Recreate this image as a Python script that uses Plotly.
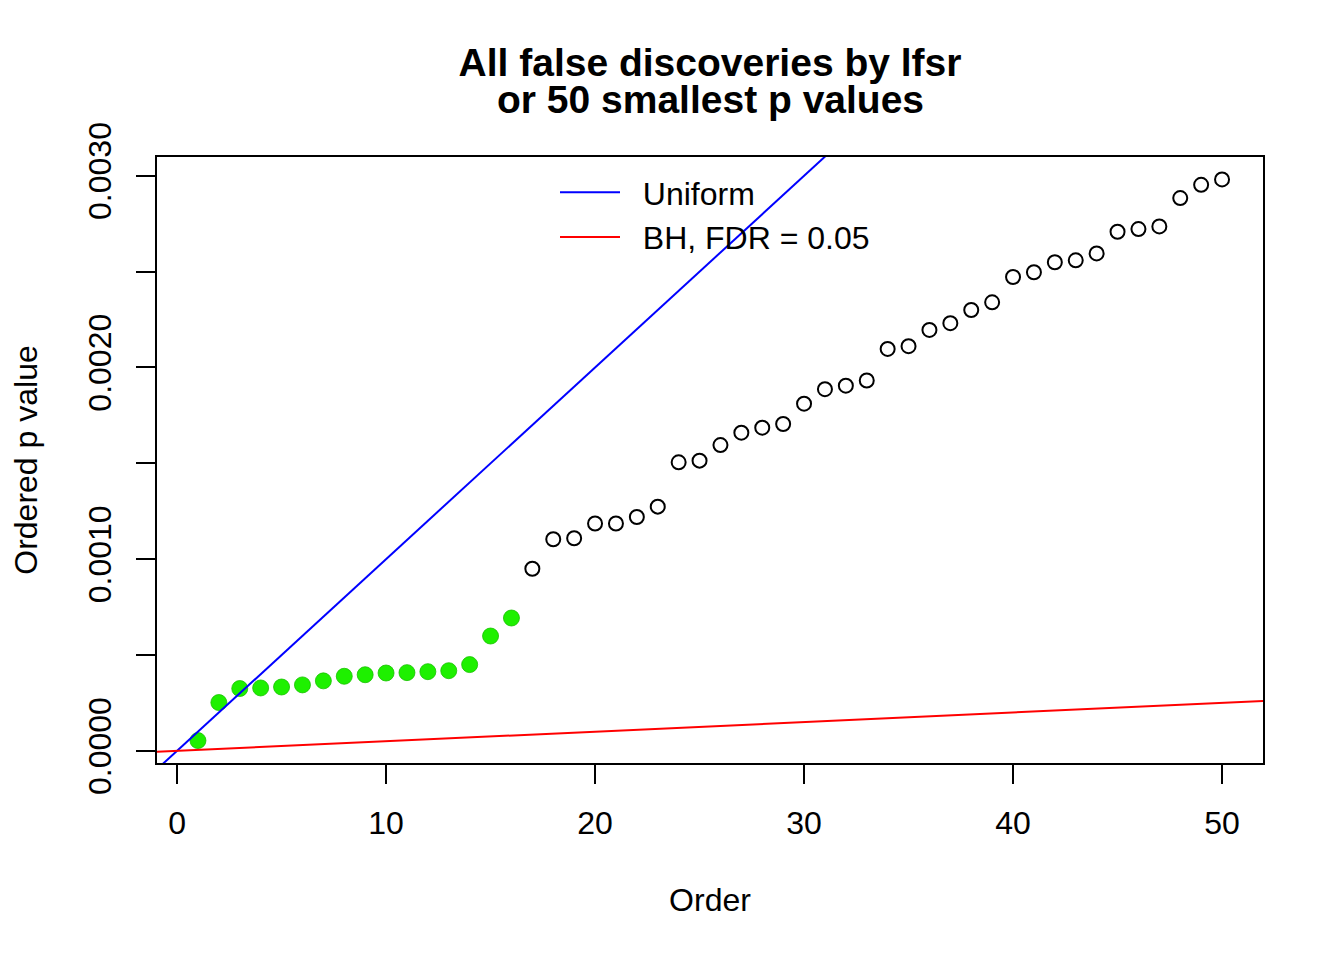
import plotly.graph_objects as go

# ---- data ----
order = list(range(1, 51))
p_values = [
    0.0000536, 0.000252, 0.000325, 0.000328, 0.000333, 0.000344, 0.000365, 0.000389,
    0.000397, 0.000406, 0.000408, 0.000413, 0.000418, 0.000450, 0.000599, 0.000693,
    0.000950, 0.001104, 0.001109, 0.001186, 0.001186, 0.001220, 0.001274, 0.001505,
    0.001514, 0.001595, 0.001660, 0.001686, 0.001705, 0.001811, 0.001887, 0.001905,
    0.001932, 0.002097, 0.002111, 0.002196, 0.002231, 0.002300, 0.002340, 0.002472,
    0.002497, 0.002549, 0.002559, 0.002595, 0.002708, 0.002722, 0.002736, 0.002884,
    0.002953, 0.002981,
]
n_discoveries = 16          # first 16 points are lfsr discoveries (green)
n_tests = 10000             # uniform line slope 1/n_tests
fdr = 0.05

legend_names = ["Uniform", "BH, FDR = 0.05"]
x_tickvals = [0, 10, 20, 30, 40, 50]
y_tickvals = [0.0, 0.0005, 0.0010, 0.0015, 0.0020, 0.0025, 0.0030]
y_ticktext = ["0.0000", "", "0.0010", "", "0.0020", "", "0.0030"]

# ---- R-style axis ranges (4% padding) ----
xmin, xmax = min(order), max(order)
ymin, ymax = min(p_values), max(p_values)
xpad = 0.04 * (xmax - xmin)
ypad = 0.04 * (ymax - ymin)
xr = [xmin - xpad, xmax + xpad]
yr = [ymin - ypad, ymax + ypad]

FONT = "Liberation Sans, Arial, Helvetica, sans-serif"
NB = "\u00a0\u00a0"  # small gap between legend line and text (as in R legend)

fig = go.Figure()

# open circles (non-discoveries)
fig.add_trace(go.Scatter(
    x=order[n_discoveries:], y=p_values[n_discoveries:], mode="markers",
    marker=dict(symbol="circle-open", size=14, color="black", line=dict(width=2, color="black")),
    showlegend=False, hoverinfo="x+y",
))
# green discoveries
fig.add_trace(go.Scatter(
    x=order[:n_discoveries], y=p_values[:n_discoveries], mode="markers",
    marker=dict(symbol="circle", size=16, color="#1ef000", line=dict(width=0.8, color="#18c000")),
    showlegend=False, hoverinfo="x+y",
))

# ab-lines spanning beyond the plot region (clipped)
line_x = [xr[0] - 5, xr[1] + 5]
fig.add_trace(go.Scatter(
    x=line_x, y=[v / n_tests for v in line_x], mode="lines",
    line=dict(color="blue", width=2), name=NB + legend_names[0],
))
fig.add_trace(go.Scatter(
    x=line_x, y=[fdr * v / n_tests for v in line_x], mode="lines",
    line=dict(color="red", width=2), name=NB + legend_names[1],
))

W, H = 1344, 960
ml, mr, mt, mb = 149, 89, 149, 205
PW, PH = W - ml - mr, H - mt - mb

axis_common = dict(
    showline=True, linecolor="black", linewidth=2, mirror=True,
    ticks="outside", ticklen=19, tickwidth=2, tickcolor="black",
    showgrid=False, zeroline=False, ticklabelstandoff=12,
    tickfont=dict(family=FONT, size=32, color="black"),
)

fig.update_layout(
    width=W, height=H,
    margin=dict(l=ml, r=mr, t=mt, b=mb),
    paper_bgcolor="white", plot_bgcolor="white",
    font=dict(family=FONT, size=32, color="black"),
    title=dict(
        text="<b>All false discoveries by lfsr</b>",
        font=dict(family=FONT, size=39, color="black"),
        x=0.5, xref="paper", xanchor="center",
        y=1 - 54 / H, yref="container", yanchor="middle",
    ),
    xaxis=dict(
        range=xr, tickvals=x_tickvals, **axis_common,
        title=dict(text="Order", font=dict(family=FONT, size=32), standoff=48),
    ),
    yaxis=dict(
        range=yr, tickvals=y_tickvals, ticktext=y_ticktext, tickangle=-90,
        **axis_common,
        title=dict(text="Ordered p value", font=dict(family=FONT, size=32), standoff=37),
    ),
    legend=dict(
        x=(547 - ml) / PW, y=1 - (157 - mt) / PH,
        xanchor="left", yanchor="top",
        bgcolor="rgba(0,0,0,0)", borderwidth=0,
        font=dict(family=FONT, size=32, color="black"),
        itemwidth=60,
    ),
    annotations=[dict(
        text="<b>or 50 smallest p values</b>", showarrow=False,
        xref="paper", x=0.5, xanchor="center",
        yref="paper", y=1 + (mt - 92) / PH, yanchor="middle",
        font=dict(family=FONT, size=39, color="black"),
    )],
)

fig.write_html("out.html")
